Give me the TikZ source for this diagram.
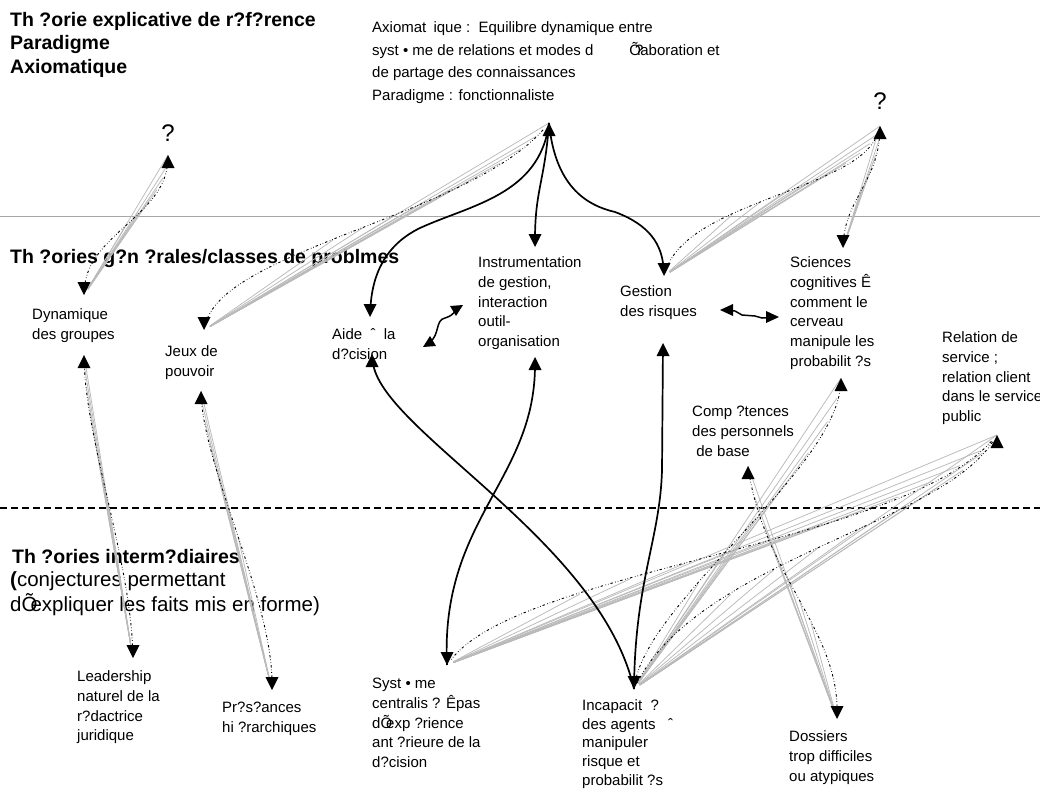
\documentclass[tikz,border=0pt]{standalone}
\usepackage{fontspec}
\setmainfont{Liberation Sans}
\usetikzlibrary{arrows.meta,calc}
\newcommand{\uptri}[1]{\fill (#1) -- ++(-6.5,13) -- ++(13,0) -- cycle;}
\newcommand{\downtri}[1]{\fill (#1) -- ++(-6.5,-13) -- ++(13,0) -- cycle;}
\newcommand{\fanbundle}[5]{%
  \foreach \t in {#5}{%
    \path (#1) .. controls (#2) and (#3) .. (#4) coordinate[pos=\t] (fanend);
    \draw[fanline] (#1) -- (fanend);}%
  \draw[dotcurve] (#1) .. controls (#2) and (#3) .. (#4);}
\begin{document}
\begin{tikzpicture}[x=1pt,y=-1pt,
 lbl/.style={anchor=north west,inner sep=0pt,align=left,yshift=9.3pt,font=\fontsize{15}{19.7}\selectfont},
 ttl/.style={anchor=north west,inner sep=0pt,align=left,yshift=10.6pt,font=\fontsize{19.5}{23.5}\selectfont\bfseries},
 big/.style={anchor=north west,inner sep=0pt,yshift=9.95pt,font=\fontsize{20.5}{23}\selectfont},
 qmark/.style={inner sep=0pt,font=\fontsize{24}{28}\selectfont},
 fanline/.style={draw=black!27,line width=0.75pt,shorten <=7pt},
 dotcurve/.style={draw=black,line width=0.9pt,dash pattern=on 0.6pt off 2pt on 0.6pt off 2pt on 2.4pt off 2.6pt,shorten <=7pt,shorten >=7pt},
 heavy/.style={draw=black,line width=1.7pt,shorten >=8pt},
 wiggle/.style={draw=black,line width=1.5pt,shorten >=8pt,shorten <=8pt},
]
\useasboundingbox (0,0) rectangle (1040,797);
\fill[white] (0,0) rectangle (1040,797);

% section separators
\draw[draw=black!35,line width=0.8pt] (0,216) -- (1040,216);
\draw[line width=1.6pt,dash pattern=on 7pt off 4pt] (0,508) -- (1040,508);

% titles
\node[ttl] (title1) at (10,20) {\strut Th ?orie explicative de r?f?rence\\Paradigme\\Axiomatique};
\node[ttl] (title2) at (10,257) {\strut Th ?ories g?n ?rales/classes de problmes};
\node[ttl] (title3) at (12,557) {\strut Th ?ories interm?diaires};
\node[big] (title3b) at (10,580) {\strut\textbf{(}conjectures permettant};
\node[big] (title3c) at (10,603) {\strut dÕ\kern-7pt expliquer les faits mis en forme)};

% text nodes
\node[lbl,font=\fontsize{15}{22.8}\selectfont,yshift=1.5pt] (axiom) at (372,27) {\strut Axiomat\hspace{3pt} ique :\ \ Equilibre dynamique entre\\syst • me de relations et modes d\hspace{36pt}Õ\kern-6pt ?\kern-3pt aboration et\\de partage des connaissances\\Paradigme : fonctionnaliste};
\node[qmark] (q1) at (168,133) {?};
\node[qmark] (q2) at (880,101) {?};
\node[lbl] (dyn) at (32,315) {\strut Dynamique\\des groupes};
\node[lbl] (jeux) at (165,352) {\strut Jeux de\\pouvoir};
\node[lbl] (aide) at (332,335) {\strut Aide\ \ ˆ\ \ la\\d?cision};
\node[lbl] (instr) at (478,263) {\strut Instrumentation\\de gestion,\\interaction\\outil-\\organisation};
\node[lbl] (gest) at (620,292) {\strut Gestion\\des risques};
\node[lbl] (sci) at (790,263) {\strut Sciences\\cognitives Ê\\comment le\\cerveau\\manipule les\\probabilit ?s};
\node[lbl] (rel) at (942,338) {\strut Relation de\\service ;\\relation client\\dans le service\\public};
\node[lbl] (comp) at (692,412) {\strut Comp ?tences\\des personnels\\\ de base};
\node[lbl] (lead) at (77,677) {\strut Leadership\\naturel de la\\r?dactrice\\juridique};
\node[lbl] (pres) at (222,708) {\strut Pr?s?ances\\hi ?rarchiques};
\node[lbl] (syst) at (372,684) {\strut Syst • me\\centralis ? Êpas\\dÕ\kern-6pt exp ?rience\\ant ?rieure de la\\d?cision};
\node[lbl,font=\fontsize{15}{18.9}\selectfont] (inc) at (582,706) {\strut Incapacit\ \ ?\\des agents\ \ \ ˆ\\manipuler\\risque et\\probabilit ?s};
\node[lbl] (dos) at (789,737) {\strut Dossiers\\trop difficiles\\ou atypiques};

% arrow tip points
\coordinate (q1tip) at (168,155);
\coordinate (q2tip) at (880,126);
\coordinate (apex) at (549,123);
\coordinate (dynT) at (84,295);
\coordinate (dynB) at (84,355);
\coordinate (jeuxT) at (204,330);
\coordinate (jeuxB) at (201,391);
\coordinate (aideT) at (370,317);
\coordinate (aideB) at (372,354);
\coordinate (instrT) at (535,247);
\coordinate (instrB) at (535,357);
\coordinate (gestT) at (664,276);
\coordinate (gestB) at (663,343);
\coordinate (sciT) at (843,248);
\coordinate (sciB) at (841,378);
\coordinate (relB) at (997,435);
\coordinate (compB) at (748,466);
\coordinate (leadT) at (133,658);
\coordinate (presT) at (272,690);
\coordinate (systT) at (447,665);
\coordinate (incT) at (634,689);
\coordinate (dosT) at (837,719);

% fans (grey bundles + dotted curve)
\fanbundle{dynT}{88,235}{165,215}{q1tip}{0.5,0.6,0.7,0.78,0.86,0.93,1}
\fanbundle{jeuxT}{225,250}{470,215}{apex}{0.45,0.52,0.6,0.66,0.72,0.78,0.84,0.9,0.95,1}
\fanbundle{gestT}{690,200}{860,190}{q2tip}{0.35,0.45,0.55,0.62,0.7,0.77,0.84,0.9,0.95,1}
\fanbundle{sciT}{846,200}{878,180}{q2tip}{0.5,0.65,0.8,0.9,1}
\fanbundle{leadT}{130,560}{86,440}{dynB}{0.5,0.6,0.7,0.8,0.88,0.95,1}
\fanbundle{presT}{272,600}{205,470}{jeuxB}{0.5,0.6,0.7,0.8,0.88,0.95,1}
\fanbundle{systT}{520,570}{900,545}{relB}{0.3,0.38,0.46,0.54,0.6,0.66,0.72,0.78,0.84,0.9,0.95,1}
\fanbundle{incT}{650,600}{835,470}{sciB}{0.35,0.45,0.55,0.65,0.75,0.85,0.93,1}
\fanbundle{incT}{700,560}{940,525}{relB}{0.3,0.4,0.5,0.6,0.7,0.78,0.86,0.93,1}
\fanbundle{dosT}{838,630}{765,575}{compB}{0.4,0.5,0.6,0.7,0.8,0.9,1}

% heavy curves
\draw[heavy] (apex) .. controls (540,195) and (470,205) .. (420,228) .. controls (385,245) and (372,275) .. (aideT);
\draw[heavy] (apex) .. controls (545,180) and (535,190) .. (instrT);
\draw[heavy] (apex) .. controls (555,185) and (585,205) .. (615,212) .. controls (650,225) and (662,245) .. (gestT);
\draw[heavy] (incT) .. controls (600,540) and (380,430) .. (aideB);
\draw[heavy] (systT) .. controls (440,520) and (535,480) .. (instrB);
\draw[heavy] (incT) .. controls (635,580) and (660,540) .. (662,470) -- (gestB);

% wiggly double arrows
\coordinate (aw1) at (423,347);
\coordinate (aw2) at (463,305);
\draw[wiggle] (aw1) .. controls (440,335) and (435,320) .. (445,318) .. controls (455,315) and (455,310) .. (aw2);
\fill (aw1) -- ++(13,-1) -- ++(-6,-10) -- cycle;
\fill (aw2) -- ++(-13,1) -- ++(6,10) -- cycle;
\coordinate (gw1) at (720,310);
\coordinate (gw2) at (779,317);
\draw[wiggle] (gw1) -- (735,311) -- (742,315) -- (755,316) -- (762,318) -- (gw2);
\fill (gw1) -- ++(13,-6) -- ++(0,12) -- cycle;
\fill (gw2) -- ++(-13,-6) -- ++(0,12) -- cycle;

% arrowheads
\uptri{q1tip} \uptri{q2tip} \uptri{apex}
\downtri{dynT} \uptri{dynB} \downtri{jeuxT} \uptri{jeuxB}
\downtri{aideT} \uptri{aideB} \downtri{instrT} \uptri{instrB}
\downtri{gestT} \uptri{gestB} \downtri{sciT} \uptri{sciB}
\uptri{relB} \uptri{compB} \downtri{leadT} \downtri{presT}
\downtri{systT} \downtri{incT} \downtri{dosT}
\end{tikzpicture}
\end{document}
